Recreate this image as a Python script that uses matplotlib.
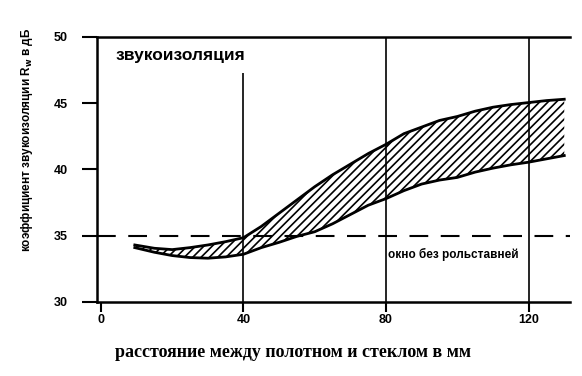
import matplotlib
matplotlib.use("Agg")
import matplotlib.pyplot as plt

# расстояние, мм
dist = [9.5, 15, 20, 25, 30, 35, 40, 45, 50, 55, 60, 65, 70, 75, 80,
        85, 90, 95, 100, 105, 110, 115, 120, 125, 130]
upper = [34.3, 34.05, 33.95, 34.1, 34.3, 34.55, 34.85, 35.7, 36.7, 37.7,
         38.7, 39.6, 40.4, 41.2, 41.9, 42.7, 43.2, 43.7, 44.0, 44.4,
         44.7, 44.9, 45.05, 45.2, 45.3]
lower = [34.1, 33.75, 33.5, 33.35, 33.3, 33.4, 33.6, 34.1, 34.5, 34.95,
         35.3, 35.9, 36.6, 37.3, 37.8, 38.4, 38.9, 39.2, 39.4, 39.8,
         40.1, 40.35, 40.55, 40.8, 41.05]
no_shutter = 35
x_ticks = [0, 40, 80, 120]
y_ticks = [30, 35, 40, 45, 50]

plt.rcParams['hatch.linewidth'] = 1.2
bold = {'family': 'Liberation Sans', 'weight': 'bold'}

fig = plt.figure(figsize=(5.82, 3.76), dpi=100)
ax = fig.add_axes([0.1667, 0.197, 0.812, 0.7046])

ax.fill_between(dist, lower, upper, facecolor='white', edgecolor='black',
                hatch='////', linewidth=0)
ax.plot(dist, upper, color='black', lw=2)
ax.plot(dist, lower, color='black', lw=2)

ax.axhline(no_shutter, color='black', lw=1.5, dashes=(9, 6))
ax.vlines(40, 30, 47.3, color='black', lw=1.2)
ax.vlines([80, 120], 30, 50, color='black', lw=1.2)

ax.set_xlim(-1.1, 131.5)
ax.set_ylim(30, 50)
ax.spines['right'].set_visible(False)
for s in ['left', 'bottom', 'top']:
    ax.spines[s].set_linewidth(1.8)

ax.set_xticks(x_ticks)
ax.set_yticks(y_ticks)
ax.tick_params(axis='y', direction='out', length=11, width=1.5, pad=10)
ax.tick_params(axis='x', direction='out', length=7, width=1.5, pad=2)
for lab in ax.get_xticklabels() + ax.get_yticklabels():
    lab.set_fontproperties(bold)
    lab.set_fontsize(9)

ax.text(4, 48.6, 'звукоизоляция', fontsize=12.5, va='center', **bold)
ax.text(99, 33.6, 'окно без рольставней', fontsize=8.5, ha='center',
        va='center', **bold)

ax.set_ylabel(r'коэффициент звукоизоляции R$_\mathbf{w}$ в дБ',
              fontsize=8.5, fontweight='bold', family='Liberation Sans')
ax.yaxis.set_label_coords(-0.131, 0.611)
ax.set_xlabel('расстояние между полотном и стеклом в мм', fontsize=13,
              fontweight='bold', family='Liberation Serif')
ax.xaxis.set_label_coords(0.414, -0.16)

fig.savefig('out.png', dpi=100)
